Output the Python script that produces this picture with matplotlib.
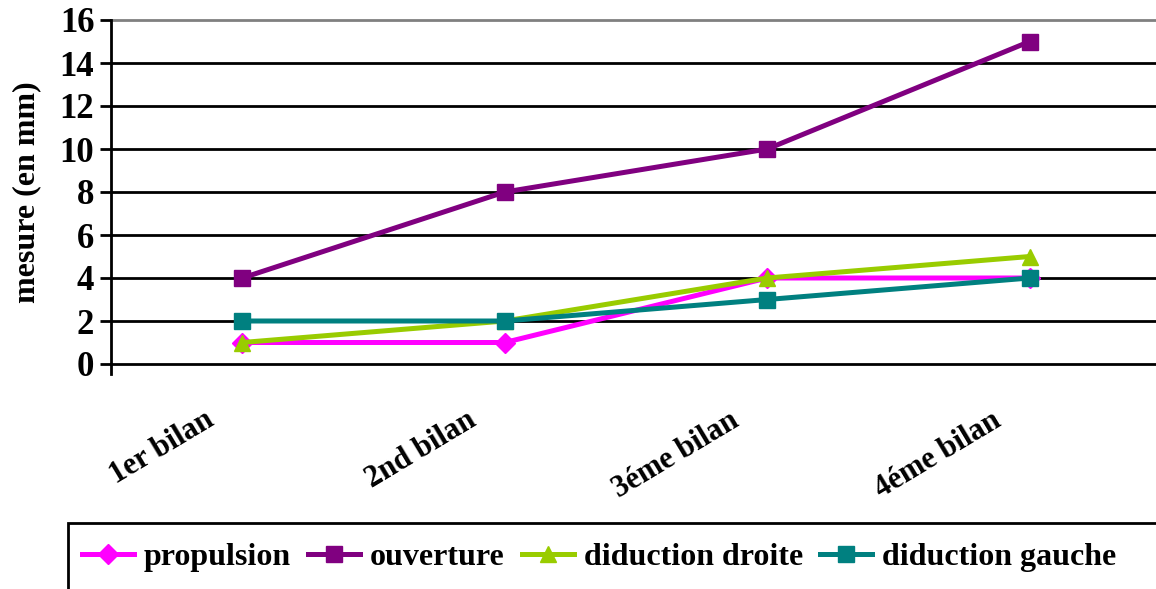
import matplotlib
matplotlib.use("Agg")
import matplotlib.pyplot as plt
from matplotlib.patches import Rectangle
from matplotlib.transforms import ScaledTranslation

categories = ["1er bilan", "2nd bilan", "3éme bilan", "4éme bilan"]
propulsion = [1, 1, 4, 4]
ouverture = [4, 8, 10, 15]
diduction_droite = [1, 2, 4, 5]
diduction_gauche = [2, 2, 3, 4]
y_ticks = [0, 2, 4, 6, 8, 10, 12, 14, 16]

plt.rcParams["font.family"] = ["Liberation Serif", "DejaVu Serif"]
plt.rcParams["font.weight"] = "bold"

W, H = 1156, 589
fig = plt.figure(figsize=(W / 100, H / 100), dpi=100)
ax = fig.add_axes([111 / W, 1 - 364 / H, 1050 / W, 344 / H])

x = [i + 0.5 for i in range(len(categories))]
series = [
    ("propulsion", propulsion, "#FF00FF", "D", 10),
    ("ouverture", ouverture, "#800080", "s", 12),
    ("diduction droite", diduction_droite, "#99CC00", "^", 12),
    ("diduction gauche", diduction_gauche, "#008080", "s", 12),
]
for name, vals, col, mk, ms in series:
    ax.plot(x, vals, color=col, lw=3.6, marker=mk, ms=ms, label=name,
            clip_on=False, zorder=3)

ax.set_xlim(0, 4)
ax.set_ylim(0, 16)
ax.set_yticks(y_ticks)
ax.set_yticklabels([str(v) for v in y_ticks], fontsize=25, fontweight="bold")
ax.set_xticks(x)
ax.set_xticklabels(categories, fontsize=22, fontweight="bold",
                   rotation=31, ha="right", rotation_mode="anchor")
ax.tick_params(axis="x", length=0, pad=30)
shift = ScaledTranslation(-38 / 100, 0, fig.dpi_scale_trans)
for lbl in ax.get_xticklabels():
    lbl.set_transform(lbl.get_transform() + shift)
ax.tick_params(axis="y", length=8, width=2, direction="out", pad=4)
ax.set_ylabel("mesure (en mm)", fontsize=23, fontweight="bold", labelpad=13)

for v in y_ticks[1:-1]:
    ax.axhline(v, color="black", lw=2, zorder=1)
for s in ["top", "right"]:
    ax.spines[s].set_visible(False)
ax.axhline(16, color="#808080", lw=2, zorder=1, clip_on=False)
ax.spines["left"].set_linewidth(2)
ax.spines["bottom"].set_linewidth(2)
ax.spines["left"].set_bounds(-0.45, 16)

# legend frame running off the bottom/right edge
fig.patches.append(Rectangle((68 / W, -0.1), 1.1, (H - 523) / H + 0.1,
                             transform=fig.transFigure, fill=False,
                             edgecolor="black", lw=2))
fig.legend(loc="center", bbox_to_anchor=(599 / W, 1 - 557 / H), ncol=4,
           frameon=False, handlelength=1.63, handletextpad=0.31,
           columnspacing=0.53, prop={"weight": "bold", "size": 23})

fig.savefig("out.png", dpi=100)
